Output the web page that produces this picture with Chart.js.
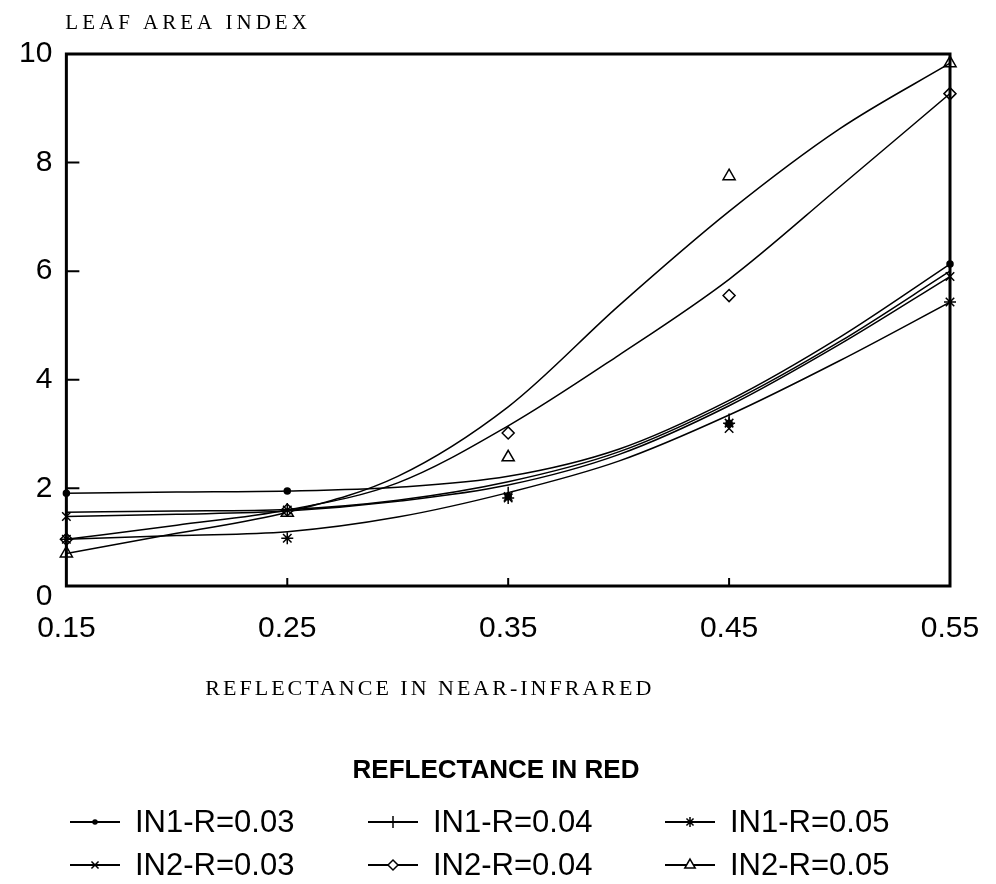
<!DOCTYPE html>
<html>
<head>
<meta charset="utf-8">
<title>Leaf area index vs reflectance in near-infrared</title>
<script src="https://cdn.jsdelivr.net/npm/chart.js@4.4.0/dist/chart.umd.min.js"></script>
<style>
    html, body { margin: 0; padding: 0; background: #fff; }
    #wrap { width: 996px; height: 884px; position: relative; }
</style>
</head>
<body>
<div id="wrap"><canvas id="chart"></canvas></div>
<script>
// Data
const fitX = [0.15, 0.20, 0.25, 0.30, 0.35, 0.40, 0.45, 0.50, 0.55];
const obsX = [0.15, 0.25, 0.35, 0.45, 0.55];
const xTicks = [0.15, 0.25, 0.35, 0.45, 0.55];
const yTicks = [0, 2, 4, 6, 8, 10];

const seriesNames = ['IN1-R=0.03', 'IN1-R=0.04', 'IN1-R=0.05', 'IN2-R=0.03', 'IN2-R=0.04', 'IN2-R=0.05'];

// fitted curves (leaf area index)
const fitIn1R03 = [1.91, 1.93, 1.95, 2.02, 2.22, 2.72, 3.62, 4.78, 6.13];
const fitIn1R04 = [1.56, 1.58, 1.61, 1.78, 2.12, 2.67, 3.57, 4.70, 6.00];
const fitIn1R05 = [1.06, 1.13, 1.20, 1.47, 1.92, 2.50, 3.35, 4.35, 5.43];
const fitIn2R03 = [1.48, 1.52, 1.58, 1.76, 2.06, 2.62, 3.52, 4.65, 5.90];
const fitIn2R04 = [1.06, 1.32, 1.60, 2.10, 3.15, 4.45, 5.85, 7.55, 9.27];
const fitIn2R05 = [0.80, 1.17, 1.56, 2.22, 3.50, 5.36, 7.10, 8.62, 9.83];

// observed points (markers)
const obsIn1R03 = [1.91, 1.95, 1.85, 3.20, 6.13];
const obsIn1R04 = [1.56, 1.60, 1.90, 3.25, 6.00];
const obsIn1R05 = [1.06, 1.08, 1.82, 3.20, 5.43];
const obsIn2R03 = [1.48, 1.60, 1.85, 3.10, 5.90];
const obsIn2R04 = [1.06, 1.60, 3.02, 5.55, 9.27];
const obsIn2R05 = [0.80, 1.55, 2.57, 7.75, 9.83];

const fits = [fitIn1R03, fitIn1R04, fitIn1R05, fitIn2R03, fitIn2R04, fitIn2R05];
const obs = [obsIn1R03, obsIn1R04, obsIn1R05, obsIn2R03, obsIn2R04, obsIn2R05];

// marker look per series
const markers = [
    { pointStyle: 'circle', radius: 3, rotation: 0, fill: '#000' },
    { pointStyle: 'line', radius: 7, rotation: 90, fill: '#000' },
    { pointStyle: 'star', radius: 6, rotation: 0, fill: '#000' },
    { pointStyle: 'crossRot', radius: 6, rotation: 0, fill: '#000' },
    { pointStyle: 'rectRot', radius: 6, rotation: 0, fill: '#fff' },
    { pointStyle: 'triangle', radius: 7, rotation: 0, fill: '#fff' }
];

const sansFont = '"Liberation Sans", Arial, Helvetica, sans-serif';
const serifFont = '"Liberation Serif", "Times New Roman", serif';

// Build datasets: one smooth curve + one set of markers per series
const datasets = [];
seriesNames.forEach((name, i) => {
    datasets.push({
        label: name,
        data: fitX.map((x, j) => ({ x: x, y: fits[i][j] })),
        showLine: true,
        borderColor: '#000',
        borderWidth: 1.5,
        pointRadius: 0,
        cubicInterpolationMode: 'monotone',
        fill: false
    });
    datasets.push({
        label: name,
        data: obsX.map((x, j) => ({ x: x, y: obs[i][j] })),
        showLine: false,
        pointStyle: markers[i].pointStyle,
        pointRadius: markers[i].radius,
        pointRotation: markers[i].rotation,
        pointBackgroundColor: markers[i].fill,
        pointBorderColor: '#000',
        pointBorderWidth: 1.5,
        clip: false
    });
});

// Frame, inner ticks and titles
const framePlugin = {
    id: 'frame',
    afterDatasetsDraw(chart) {
        const ctx = chart.ctx;
        const a = chart.chartArea;
        const xs = chart.scales.x;
        const ys = chart.scales.y;
        ctx.save();
        ctx.strokeStyle = '#000';
        ctx.lineWidth = 3;
        ctx.strokeRect(a.left, a.top, a.right - a.left, a.bottom - a.top);

        ctx.lineWidth = 2;
        ctx.beginPath();
        xTicks.slice(1, -1).forEach(v => {
            const px = xs.getPixelForValue(v);
            ctx.moveTo(px, a.bottom);
            ctx.lineTo(px, a.bottom - 8);
        });
        yTicks.slice(1, -1).forEach(v => {
            const py = ys.getPixelForValue(v);
            ctx.moveTo(a.left, py);
            ctx.lineTo(a.left + 13, py);
        });
        ctx.stroke();

        ctx.fillStyle = '#000';
        ctx.textBaseline = 'middle';
        ctx.textAlign = 'left';
        ctx.font = '21px ' + serifFont;
        ctx.letterSpacing = '4px';
        ctx.fillText('LEAF AREA INDEX', a.left - 1, a.top - 31);
        ctx.letterSpacing = '3px';
        ctx.font = '22px ' + serifFont;
        ctx.fillText('REFLECTANCE IN NEAR-INFRARED', a.left + 139, a.bottom + 103);
        ctx.restore();
    }
};

// Legend under the chart, three columns and two rows
const legendPlugin = {
    id: 'bottomLegend',
    afterDraw(chart) {
        const ctx = chart.ctx;
        const a = chart.chartArea;
        ctx.save();
        ctx.fillStyle = '#000';
        ctx.textBaseline = 'middle';
        ctx.textAlign = 'center';
        ctx.font = 'bold 26px ' + sansFont;
        ctx.fillText('REFLECTANCE IN RED', 496, a.bottom + 185);

        const colX = [70, 368, 665];
        const rowY = [a.bottom + 236, a.bottom + 279];
        seriesNames.forEach((name, i) => {
            const x = colX[i % 3];
            const y = rowY[Math.floor(i / 3)];
            ctx.strokeStyle = '#000';
            ctx.lineWidth = 2;
            ctx.beginPath();
            ctx.moveTo(x, y);
            ctx.lineTo(x + 50, y);
            ctx.stroke();

            if (Chart.helpers && Chart.helpers.drawPoint) {
                ctx.fillStyle = markers[i].fill;
                ctx.lineWidth = 1.5;
                Chart.helpers.drawPoint(ctx, {
                    pointStyle: markers[i].pointStyle,
                    radius: markers[i].radius - 1,
                    rotation: markers[i].rotation,
                    borderWidth: 1.5
                }, x + 25, y);
            }

            ctx.fillStyle = '#000';
            ctx.textAlign = 'left';
            ctx.font = '31px ' + sansFont;
            ctx.fillText(name, x + 65, y + 1);
        });
        ctx.restore();
    }
};

const ctx = document.getElementById('chart');

new Chart(ctx, {
    type: 'scatter',
    data: { datasets: datasets },
    plugins: [framePlugin, legendPlugin],
    options: {
        responsive: true,
        maintainAspectRatio: false,
        animation: false,
        devicePixelRatio: 1,
        layout: {
            padding: { top: 54, left: 5, right: 46, bottom: 213 }
        },
        plugins: {
            legend: { display: false },
            tooltip: { enabled: false }
        },
        scales: {
            x: {
                type: 'linear',
                min: 0.15,
                max: 0.55,
                afterBuildTicks: scale => {
                    scale.ticks = xTicks.map(v => ({ value: v }));
                },
                ticks: {
                    callback: v => Number(v).toFixed(2),
                    color: '#000',
                    // tall line height pushes the labels down without widening the side padding
                    font: { family: sansFont, size: 30, lineHeight: 1.9 },
                    padding: 14,
                    maxRotation: 0,
                    autoSkip: false
                },
                grid: { display: false, drawTicks: false },
                border: { display: false }
            },
            y: {
                type: 'linear',
                // the original frame starts a little above zero
                min: 0.2,
                max: 10,
                afterBuildTicks: scale => {
                    scale.ticks = yTicks.map(v => ({ value: v }));
                },
                ticks: {
                    color: '#000',
                    font: { family: sansFont, size: 30 },
                    padding: 14
                },
                grid: { display: false, drawTicks: false },
                border: { display: false }
            }
        }
    }
});
</script>
</body>
</html>
